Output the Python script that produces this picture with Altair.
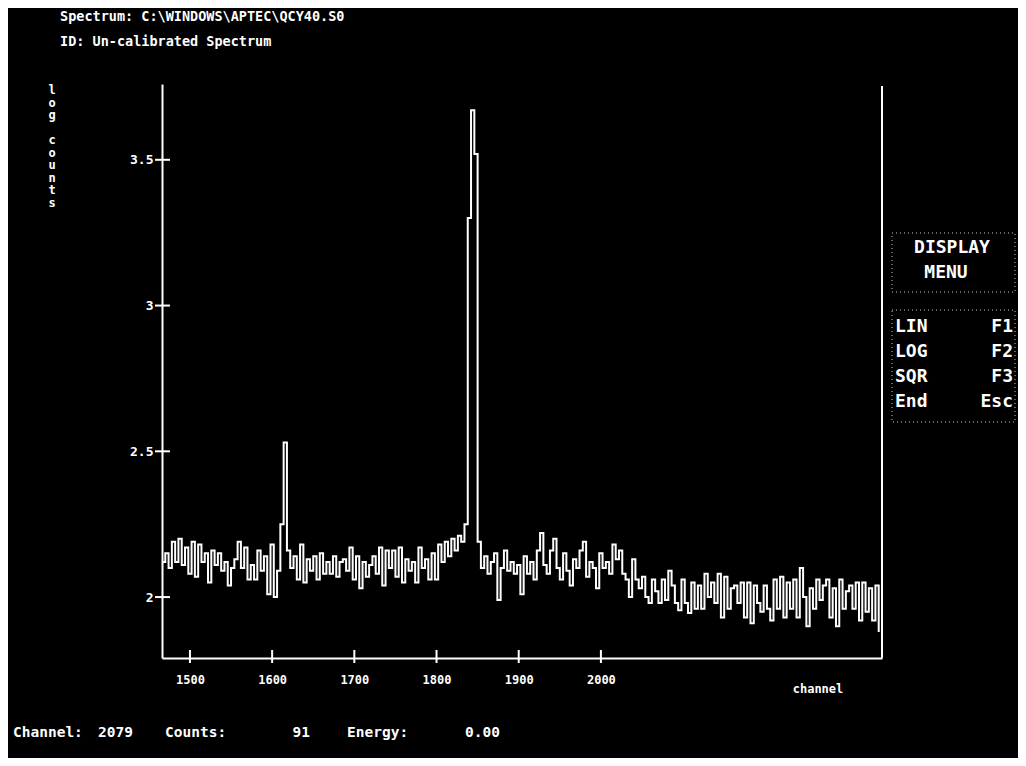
import altair as alt
import pandas as pd

# ---------------- data ----------------
CH_START = 1466          # first channel shown
CH_STEP = 4              # channels per plotted step
log_counts = [
    2.12, 2.15, 2.10, 2.19, 2.12, 2.20, 2.11, 2.17, 2.08, 2.19,
    2.07, 2.18, 2.12, 2.15, 2.05, 2.16, 2.11, 2.15, 2.09, 2.12,
    2.04, 2.10, 2.13, 2.19, 2.10, 2.17, 2.06, 2.11, 2.06, 2.16,
    2.09, 2.14, 2.01, 2.18, 2.00, 2.09, 2.25, 2.53, 2.16, 2.10,
    2.14, 2.06, 2.18, 2.05, 2.13, 2.09, 2.14, 2.06, 2.15, 2.08,
    2.12, 2.08, 2.14, 2.07, 2.12, 2.13, 2.09, 2.17, 2.06, 2.14,
    2.03, 2.12, 2.07, 2.11, 2.14, 2.08, 2.17, 2.04, 2.16, 2.10,
    2.16, 2.07, 2.17, 2.05, 2.13, 2.09, 2.12, 2.05, 2.17, 2.10,
    2.13, 2.06, 2.15, 2.06, 2.18, 2.12, 2.19, 2.14, 2.20, 2.16,
    2.21, 2.19, 2.25, 3.30, 3.67, 3.52, 2.19, 2.10, 2.14, 2.08,
    2.12, 2.15, 1.99, 2.10, 2.16, 2.09, 2.12, 2.08, 2.11, 2.01,
    2.14, 2.08, 2.12, 2.06, 2.16, 2.22, 2.11, 2.08, 2.16, 2.20,
    2.10, 2.06, 2.15, 2.09, 2.04, 2.13, 2.10, 2.16, 2.19, 2.07,
    2.12, 2.10, 2.03, 2.15, 2.10, 2.12, 2.08, 2.18, 2.13, 2.16,
    2.08, 2.06, 2.00, 2.13, 2.06, 2.03, 2.07, 2.00, 1.98, 2.06,
    2.02, 1.98, 2.06, 1.99, 2.09, 2.04, 1.98, 1.955, 2.06, 1.98,
    1.945, 2.05, 1.96, 2.04, 1.96, 2.08, 2.00, 2.05, 1.98, 2.08,
    1.93, 2.07, 1.96, 2.03, 2.04, 1.98, 2.05, 1.93, 2.05, 1.91,
    2.04, 1.98, 1.95, 2.04, 1.96, 1.92, 2.06, 1.96, 2.07, 1.93,
    2.05, 1.96, 2.06, 1.93, 2.10, 2.00, 1.90, 2.03, 1.96, 2.06,
    1.99, 2.04, 2.06, 1.93, 2.03, 1.90, 2.06, 1.96, 2.02, 2.04,
    1.96, 2.05, 1.92, 2.05, 1.95, 2.03, 1.92, 2.04, 1.88,
]
channels = [CH_START + CH_STEP * i for i in range(len(log_counts))]

x_domain = [1466, 2342]
y_domain = [1.791, 3.76]
x_ticks = [1500, 1600, 1700, 1800, 1900, 2000]
y_ticks = [2, 2.5, 3, 3.5]

title_lines = ["Spectrum: C:\\WINDOWS\\APTEC\\QCY40.S0", "ID: Un-calibrated Spectrum"]
y_title = "log counts"
x_title = "channel"
menu_head = ["DISPLAY", "MENU"]
menu_keys = ["LIN", "LOG", "SQR", "End"]
menu_fkeys = ["F1", "F2", "F3", "Esc"]
status_labels = ["Channel:", "2079", "Counts:", "91", "Energy:", "0.00"]

MONO = "DejaVu Sans Mono"
W, H = 720, 574

df = pd.DataFrame({"channel": channels, "log_counts": log_counts})


def xenc(field="channel"):
    return alt.X(
        f"{field}:Q",
        scale=alt.Scale(domain=x_domain, nice=False, zero=False),
        axis=alt.Axis(values=x_ticks, format="d", ticks=False, tickSize=0, labelPadding=16,
                      labelColor="white", labelFont=MONO, labelFontSize=12, labelFontWeight="bold",
                      domainColor="white", domainWidth=2, grid=False, title=None),
    )


def yenc(field="log_counts"):
    return alt.Y(
        f"{field}:Q",
        scale=alt.Scale(domain=y_domain, nice=False, zero=False),
        axis=alt.Axis(values=y_ticks, format="~g", ticks=False, tickSize=0, labelPadding=9,
                      labelColor="white", labelFont=MONO, labelFontSize=13, labelFontWeight="bold",
                      domainColor="white", domainWidth=2, grid=False, title=None),
    )


line = alt.Chart(df).mark_line(interpolate="step-after", color="white", strokeWidth=2).encode(
    x=xenc(), y=yenc()
)

xt = alt.Chart(pd.DataFrame({"channel": x_ticks})).mark_rule(color="white", strokeWidth=2).encode(
    x=xenc(), y=alt.value(H - 8), y2=alt.value(H + 5)
)
yt = alt.Chart(pd.DataFrame({"log_counts": y_ticks})).mark_rule(color="white", strokeWidth=2).encode(
    y=yenc(), x=alt.value(-7), x2=alt.value(8)
)
right_border = alt.Chart(pd.DataFrame({"k": [0]})).mark_rule(color="white", strokeWidth=2).encode(
    x=alt.value(W), y=alt.value(2), y2=alt.value(H)
)


def label(text, x, y, size=13, align="left", weight="bold", baseline="middle", **kw):
    return alt.Chart(pd.DataFrame({"t": [text]})).mark_text(
        align=align, baseline=baseline, font=MONO, fontSize=size, fontWeight=weight,
        color="white", **kw
    ).encode(text="t:N", x=alt.value(x), y=alt.value(y))


def box(x, x2, y, y2):
    return alt.Chart(pd.DataFrame({"k": [0]})).mark_rect(
        filled=False, stroke="#c8c8c8", strokeWidth=1, strokeDash=[1, 3]
    ).encode(x=alt.value(x), x2=alt.value(x2), y=alt.value(y), y2=alt.value(y2))


layers = [line, xt, yt, right_border]
layers.append(label(title_lines[0], -102, -67, size=13.5))
layers.append(label(title_lines[1], -102, -42, size=13.5))
# vertical, letter-stacked axis title: one stack per word
LH = 12.5
y0 = 1
for word in y_title.split(" "):
    layers.append(label("\n".join(word), -110, y0, size=12, align="center", baseline="top",
                        lineBreak="\n", lineHeight=LH))
    y0 += (len(word) + 1) * LH
layers.append(label(x_title, 656, 605, size=12, align="center"))

layers.append(box(730, 853, 149, 208))
layers.append(box(730, 853, 226, 338))
layers.append(label(menu_head[0], 790, 164, size=18, align="center"))
layers.append(label(menu_head[1], 784, 189, size=18, align="center"))
for i, (k, f) in enumerate(zip(menu_keys, menu_fkeys)):
    yy = 243 + 25 * i
    layers.append(label(k, 733, yy, size=18, align="left"))
    layers.append(label(f, 851, yy, size=18, align="right"))

status_pos = [(-149, "left"), (-64, "left"), (3, "left"), (148, "right"), (185, "left"), (338, "right")]
for txt, (xx, al) in zip(status_labels, status_pos):
    layers.append(label(txt, xx, 649, size=14.5, align=al))

chart = alt.layer(*layers).properties(
    width=W, height=H,
    background="black",
    padding={"left": 154, "top": 76, "right": 136, "bottom": 100},
    autosize=alt.AutoSizeParams(type="none"),
).configure_view(strokeWidth=0)

chart.save("out.html", embed_options={"renderer": "svg", "actions": False})
